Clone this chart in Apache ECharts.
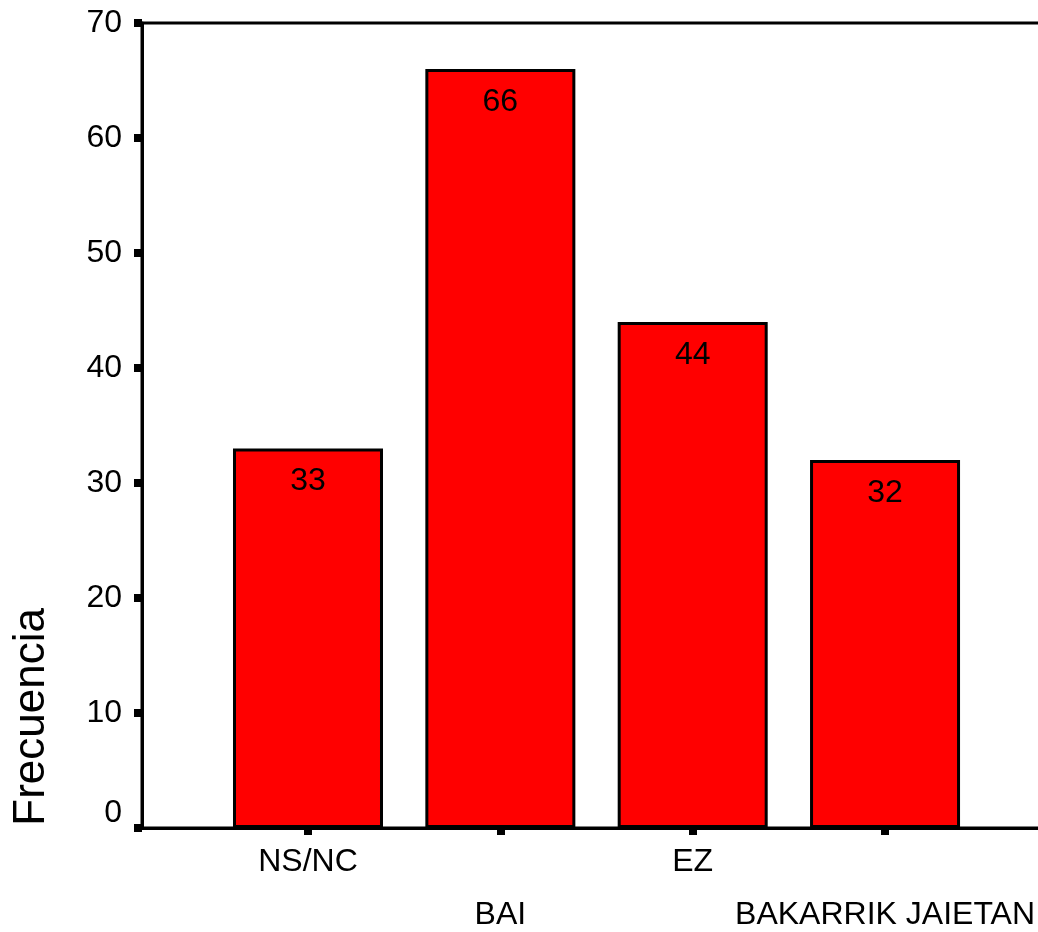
<!DOCTYPE html>
<html>
<head>
<meta charset="utf-8">
<script src="https://cdn.jsdelivr.net/npm/echarts@6/dist/echarts.min.js"></script>
<style>
html,body{margin:0;padding:0;background:#fff;}
#c{width:1038px;height:932px;}
</style>
</head>
<body>
<div id="c"></div>
<script>
var categories = ['NS/NC', 'BAI', 'EZ', 'BAKARRIK JAIETAN'];
var values = [33, 66, 44, 32];
var yAxisTitle = 'Frecuencia';

var FONT = '"Liberation Sans", Arial, sans-serif';
var chart = echarts.init(document.getElementById('c'));
var positions = categories.map(function (c, i) { return i; });
var seriesData = values.map(function (v, i) { return [positions[i], v]; });

chart.setOption({
  animation: false,
  backgroundColor: '#fff',
  grid: {
    left: 142, top: 23, width: 920, height: 805,
    outerBoundsMode: 'none', containLabel: false,
    show: true, borderColor: '#000', borderWidth: 3, backgroundColor: 'transparent'
  },
  xAxis: {
    type: 'value',
    min: -0.863, max: 3.92,
    splitLine: { show: false },
    axisLine: { show: true, onZero: false, lineStyle: { color: '#000', width: 3 } },
    axisTick: {
      show: true, customValues: positions, length: 7, inside: false,
      lineStyle: { color: '#000', width: 8 }
    },
    axisLabel: {
      customValues: positions,
      margin: 8,
      fontFamily: FONT, fontSize: 32, color: '#000', lineHeight: 53,
      formatter: function (v) {
        var i = Math.round(v);
        var name = categories[i];
        return (i % 2 === 0) ? name : '\n' + name;
      }
    }
  },
  yAxis: {
    type: 'value',
    min: 0, max: 70, interval: 10,
    splitLine: { show: false },
    axisLine: { show: true, onZero: false, lineStyle: { color: '#000', width: 3 } },
    axisTick: { show: true, length: 8, lineStyle: { color: '#000', width: 8 } },
    axisLabel: {
      margin: 20,
      fontFamily: FONT, fontSize: 32, color: '#000',
      formatter: function (v) { return v === 0 ? '{z|0}' : '' + v; },
      rich: { z: { fontFamily: FONT, fontSize: 32, color: '#000', padding: [0, 0, 30, 0] } }
    }
  },
  graphic: [{
    type: 'text',
    left: 10, top: 608,
    rotation: Math.PI / 2,
    originX: 0, originY: 0,
    style: { text: yAxisTitle, font: '44px ' + FONT, fill: '#000' },
    z: 10
  }],
  series: [{
    type: 'bar',
    data: seriesData,
    barWidth: 150,
    itemStyle: { color: '#ff0000', borderColor: '#000', borderWidth: 3 },
    label: {
      show: true, position: 'insideTop', distance: 17,
      fontFamily: FONT, fontSize: 32, color: '#000',
      formatter: function (p) { return p.value[1]; }
    }
  }]
});
</script>
</body>
</html>
